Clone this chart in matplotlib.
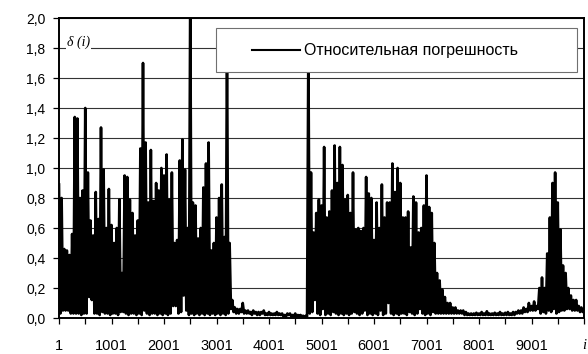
import matplotlib
matplotlib.use("Agg")
import matplotlib.pyplot as plt
from matplotlib.patches import Rectangle
from matplotlib.lines import Line2D

# Relative error delta(i) over the sample index i.
# Local maxima, one every 50 samples (i = 1, 51, 101, ...)
peaks = [
    0.89, 0.80, 0.46, 0.45, 0.42, 0.56, 1.34, 1.33, 0.80, 0.85,
    1.40, 0.97, 0.65, 0.55, 0.84, 0.66, 1.27, 0.99, 0.60, 0.86,
    0.62, 0.50, 0.60, 0.79, 0.30, 0.95, 0.94, 0.79, 0.70, 0.55,
    0.65, 1.13, 1.70, 1.17, 0.77, 1.12, 0.78, 0.90, 0.85, 1.00,
    0.95, 1.09, 0.79, 0.97, 0.50, 0.52, 1.05, 1.19, 0.99, 0.60,
    2.20, 0.77, 0.75, 0.53, 0.60, 0.87, 1.03, 1.17, 0.45, 0.50,
    0.67, 0.80, 0.89, 0.54, 1.85, 0.50, 0.12, 0.07, 0.06, 0.06,
    0.10, 0.05, 0.05, 0.04, 0.05, 0.04, 0.04, 0.04, 0.05, 0.03,
    0.04, 0.03, 0.03, 0.04, 0.03, 0.03, 0.02, 0.03, 0.03, 0.02,
    0.03, 0.02, 0.02, 0.015, 0.015, 1.85, 0.97, 0.57, 0.70, 0.79,
    0.75, 1.14, 0.67, 0.71, 0.85, 1.15, 0.90, 1.14, 1.02, 0.79,
    0.82, 0.70, 0.97, 0.59, 0.60, 0.58, 0.60, 0.94, 0.83, 0.80,
    0.52, 0.77, 0.60, 0.89, 0.67, 0.77, 0.77, 1.03, 0.84, 1.00,
    0.90, 0.67, 0.67, 0.71, 0.47, 0.81, 0.77, 0.57, 0.60, 0.75,
    0.95, 0.74, 0.70, 0.50, 0.30, 0.25, 0.19, 0.14, 0.10, 0.10,
    0.07, 0.07, 0.05, 0.05, 0.05, 0.04, 0.03, 0.03, 0.03, 0.035,
    0.03, 0.04, 0.03, 0.045, 0.03, 0.03, 0.035, 0.03, 0.04, 0.03,
    0.035, 0.04, 0.03, 0.04, 0.04, 0.05, 0.05, 0.07, 0.06, 0.10,
    0.08, 0.11, 0.08, 0.20, 0.27, 0.20, 0.43, 0.67, 0.90, 0.97,
    0.77, 0.59, 0.35, 0.30, 0.20, 0.15, 0.12, 0.12, 0.08, 0.07,
]

# Local minima, midway between consecutive maxima (i = 26, 76, 126, ...)
troughs = [
    0.03, 0.05, 0.05, 0.05, 0.03, 0.03, 0.03, 0.03, 0.02, 0.03,
    0.03, 0.14, 0.12, 0.03, 0.03, 0.02, 0.04, 0.03, 0.03, 0.02,
    0.03, 0.03, 0.02, 0.04, 0.04, 0.03, 0.02, 0.03, 0.03, 0.02,
    0.03, 0.02, 0.05, 0.03, 0.02, 0.03, 0.03, 0.02, 0.03, 0.02,
    0.03, 0.02, 0.03, 0.08, 0.08, 0.03, 0.04, 0.15, 0.05, 0.02,
    0.03, 0.02, 0.03, 0.02, 0.03, 0.02, 0.03, 0.02, 0.03, 0.02,
    0.03, 0.02, 0.03, 0.02, 0.03, 0.06, 0.04, 0.03, 0.03, 0.04,
    0.03, 0.03, 0.03, 0.02, 0.03, 0.02, 0.02, 0.03, 0.02, 0.02,
    0.02, 0.02, 0.02, 0.02, 0.02, 0.01, 0.01, 0.02, 0.01, 0.01,
    0.01, 0.01, 0.01, 0.005, 0.01, 0.03, 0.04, 0.12, 0.03, 0.02,
    0.06, 0.02, 0.03, 0.02, 0.04, 0.03, 0.02, 0.03, 0.02, 0.03,
    0.02, 0.03, 0.04, 0.03, 0.02, 0.03, 0.05, 0.02, 0.03, 0.02,
    0.03, 0.02, 0.05, 0.02, 0.03, 0.10, 0.03, 0.02, 0.03, 0.02,
    0.03, 0.03, 0.02, 0.04, 0.03, 0.02, 0.03, 0.06, 0.03, 0.02,
    0.03, 0.02, 0.04, 0.03, 0.03, 0.03, 0.03, 0.03, 0.03, 0.03,
    0.03, 0.03, 0.03, 0.03, 0.02, 0.02, 0.02, 0.02, 0.02, 0.02,
    0.02, 0.02, 0.02, 0.02, 0.02, 0.02, 0.02, 0.02, 0.02, 0.02,
    0.02, 0.02, 0.02, 0.02, 0.03, 0.03, 0.03, 0.04, 0.04, 0.05,
    0.05, 0.05, 0.06, 0.03, 0.04, 0.03, 0.05, 0.04, 0.06, 0.03,
    0.04, 0.05, 0.05, 0.06, 0.06, 0.05, 0.05, 0.05, 0.04, 0.04,
]

last_index = 10000
last_value = 0.06

y_ticks = [0.0, 0.2, 0.4, 0.6, 0.8, 1.0, 1.2, 1.4, 1.6, 1.8, 2.0]
x_labels = ["1", "1001", "2001", "3001", "4001", "5001",
            "6001", "7001", "8001", "9001", "i"]
legend_label = "Относительная погрешность"

step = 50
idx, vals = [], []
for k, (p, t) in enumerate(zip(peaks, troughs)):
    idx += [1 + step * k, 1 + step * k + step // 2]
    vals += [p, t]
idx.append(last_index)
vals.append(last_value)

plt.rcParams["font.family"] = ["Liberation Sans", "DejaVu Sans"]

fig = plt.figure(figsize=(5.88, 3.54), dpi=100)
ax = fig.add_axes([59 / 588, 36 / 354, 525 / 588, 300 / 354])

ax.plot(idx, vals, color="black", lw=1.9, solid_joinstyle="round", zorder=3)

ax.set_xlim(1, 10001)
ax.set_ylim(0, 2.0)

ax.set_yticks(y_ticks)
ax.set_yticklabels([f"{v:.1f}".replace(".", ",") for v in y_ticks], fontsize=10)
ax.yaxis.grid(True, color="#333333", lw=0.8)
ax.set_axisbelow(True)

xt = [1 + 500 * j for j in range(21)]
ax.set_xticks(xt)
xl = []
for j in range(21):
    xl.append(x_labels[j // 2] if j % 2 == 0 else "")
ax.set_xticklabels(xl, fontsize=10.5)
for lab in ax.get_xticklabels():
    if lab.get_text() == "i":
        lab.set_fontstyle("italic")
        lab.set_family(["Liberation Serif"])

ax.tick_params(axis="y", direction="out", length=4.3, width=0.9, pad=5.5)
ax.tick_params(axis="x", direction="out", length=4.3, width=0.9, pad=11)

for s in ax.spines.values():
    s.set_linewidth(1.4)
    s.set_color("black")

ax.text(155, 1.812, "δ (i)", fontsize=10, fontstyle="italic",
        family=["Liberation Serif", "DejaVu Serif"], va="baseline", ha="left",
        bbox=dict(facecolor="white", edgecolor="none", pad=0.5), zorder=2)

# legend box
lx0, lx1 = (216 - 59) / 525, (577 - 59) / 525
ly0, ly1 = (318 - 72) / 300, (318 - 28) / 300
ax.add_patch(Rectangle((lx0, ly0), lx1 - lx0, ly1 - ly0, transform=ax.transAxes,
                       facecolor="white", edgecolor="#707070", lw=0.8, zorder=5))
ly = (318 - 50) / 300
ax.add_line(Line2D([(252 - 59) / 525, (300 - 59) / 525], [ly, ly],
                   transform=ax.transAxes, color="black", lw=1.5, zorder=6))
ax.text((304 - 59) / 525, ly, legend_label, transform=ax.transAxes,
        fontsize=11.5, va="center", ha="left", zorder=6)

fig.savefig("out.png", dpi=100)
